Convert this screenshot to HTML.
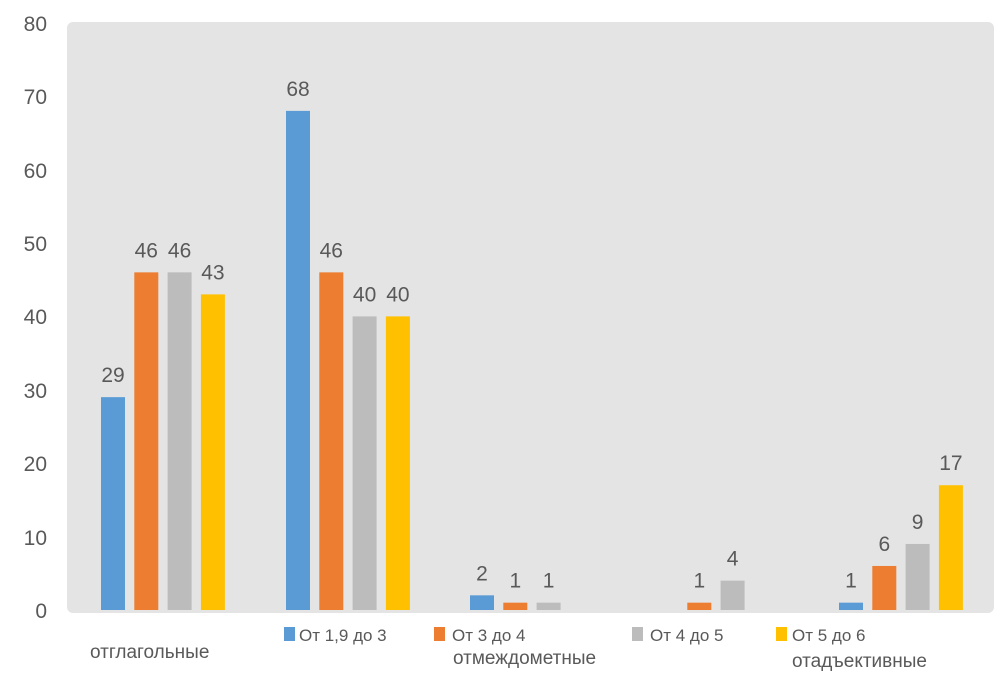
<!DOCTYPE html>
<html><head><meta charset="utf-8"><style>
body{margin:0;background:#fff;width:1001px;height:674px;overflow:hidden;font-family:"Liberation Sans",sans-serif}
</style></head><body>
<svg width="1001" height="674" xmlns="http://www.w3.org/2000/svg" font-family="Liberation Sans, sans-serif">
<rect x="67" y="22" width="927" height="591" rx="6" fill="#e4e4e4"/>
<g fill="#595959" font-size="21" text-anchor="end">
<text x="47" y="618">0</text><text x="47" y="545">10</text><text x="47" y="471">20</text><text x="47" y="398">30</text><text x="47" y="324">40</text><text x="47" y="251">50</text><text x="47" y="178">60</text><text x="47" y="104">70</text><text x="47" y="31">80</text>
</g>
<g id="bars"></g>
<g fill="#595959" font-size="21" text-anchor="middle" id="lbl"></g>
<g font-size="17" fill="#595959">
<rect x="284" y="627" width="11" height="14" fill="#5b9bd5"/><text x="299" y="641">От 1,9 до 3</text>
<rect x="434" y="627" width="11" height="14" fill="#ed7d31"/><text x="452" y="641">От 3 до 4</text>
<rect x="632" y="627" width="11" height="14" fill="#bcbcbc"/><text x="650" y="641">От  4 до 5</text>
<rect x="776" y="627" width="11" height="14" fill="#ffc000"/><text x="792" y="641">От 5 до 6</text>
</g>
<g font-size="19" fill="#595959">
<text x="90" y="658">отглагольные</text>
<text x="453" y="664">отмеждометные</text>
<text x="792" y="667">отадъективные</text>
</g>
<script>
var cols=["#5b9bd5","#ed7d31","#bcbcbc","#ffc000"];
var data=[[29,46,46,43],[68,46,40,40],[2,1,1,null],[null,1,4,null],[1,6,9,17]];
var starts=[101,286,470,654,839];
var b=document.getElementById("bars"),l=document.getElementById("lbl"),ns="http://www.w3.org/2000/svg";
data.forEach(function(g,i){g.forEach(function(v,j){if(v===null)return;
var x=starts[i]+j*33.3,h=v*7.34,r=document.createElementNS(ns,"rect");
r.setAttribute("x",x);r.setAttribute("y",610-h);r.setAttribute("width",24);r.setAttribute("height",h);r.setAttribute("fill",cols[j]);b.appendChild(r);
var t=document.createElementNS(ns,"text");t.setAttribute("x",x+12);t.setAttribute("y",610-h-15);t.textContent=v;l.appendChild(t);});});
</script>
</svg>
</body></html>
